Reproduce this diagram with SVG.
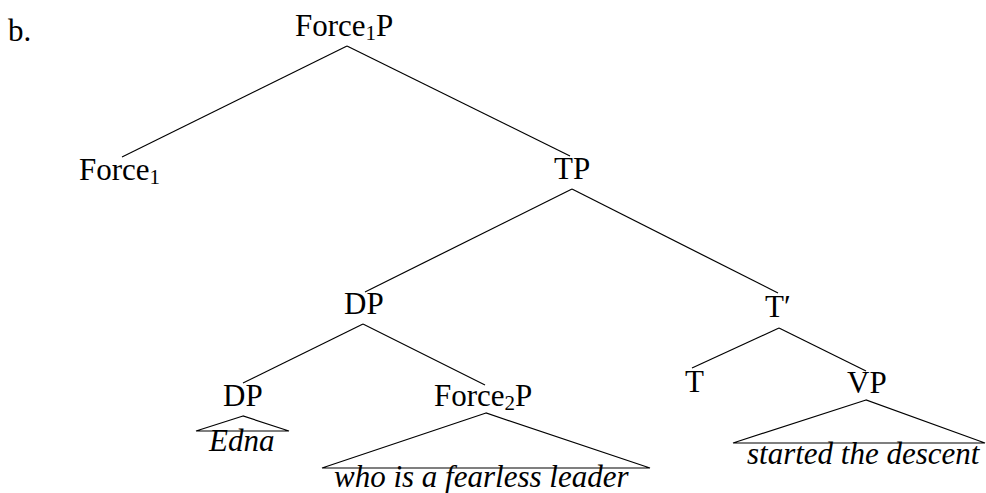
<svg xmlns="http://www.w3.org/2000/svg" width="986" height="493" viewBox="0 0 986 493">
<style>
text{font-family:'Liberation Serif','Times New Roman',Times,'DejaVu Serif',serif;font-size:31px;fill:#000}
.it{font-style:italic}
.sub{font-size:21px}
.edge{stroke:#000;stroke-width:1.2;fill:none}
</style>
<rect width="986" height="493" fill="#fff"/>
<text x="8" y="41">b.</text>
<g id="connectors">
<line class="edge" x1="347" y1="46" x2="122" y2="157"/>
<line class="edge" x1="347" y1="46" x2="570" y2="156"/>
<line class="edge" x1="572" y1="189" x2="365" y2="292"/>
<line class="edge" x1="572" y1="189" x2="778" y2="293"/>
<line class="edge" x1="363" y1="324" x2="243" y2="383"/>
<line class="edge" x1="363" y1="324" x2="485" y2="385"/>
<line class="edge" x1="779" y1="328" x2="692" y2="368"/>
<line class="edge" x1="779" y1="328" x2="866" y2="371"/>
<polygon class="edge" points="243,416 196,431 289,431"/>
<polygon class="edge" points="486,413 322,468 650,468"/>
<polygon class="edge" points="866,400 733,443 985,443"/>
</g>
<g id="force1p"><text x="295" y="36">Force<tspan class="sub" dy="4">1</tspan><tspan dy="-4">P</tspan></text></g>
<g id="force1"><text x="79" y="180">Force<tspan class="sub" dy="4">1</tspan></text></g>
<g id="tp"><text x="554" y="179">TP</text></g>
<g id="dp1"><text x="344" y="314">DP</text></g>
<g id="tbar"><text x="765" y="317">T′</text></g>
<g id="dp2"><text x="223" y="406">DP</text></g>
<g id="force2p"><text x="434" y="406">Force<tspan class="sub" dy="4">2</tspan><tspan dy="-4">P</tspan></text></g>
<g id="t"><text x="685" y="392">T</text></g>
<g id="vp"><text x="847" y="393">VP</text></g>
<g id="edna"><text class="it" x="209" y="451">Edna</text></g>
<g id="who"><text class="it" x="334" y="487">who is a fearless leader</text></g>
<g id="started"><text class="it" x="747" y="464">started the descent</text></g>
</svg>
